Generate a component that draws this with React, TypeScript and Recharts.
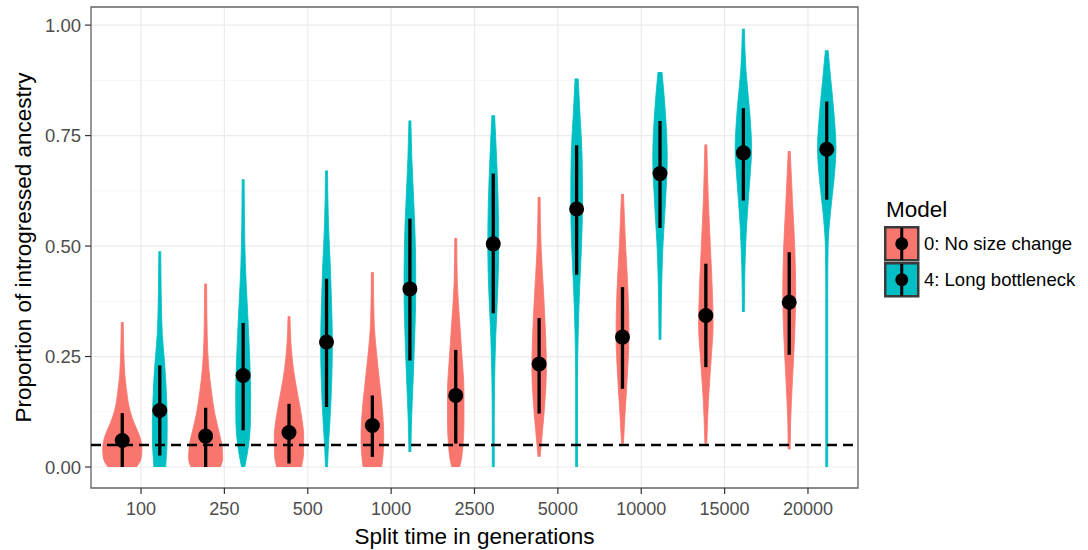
import React from 'react';
import {
  ComposedChart,
  Area,
  Line,
  Scatter,
  XAxis,
  YAxis,
  CartesianGrid,
  ReferenceLine,
  ReferenceArea,
  Label,
} from 'recharts';

const splitTimes = ['100', '250', '500', '1000', '2500', '5000', '10000', '15000', '20000'];

// model 0: no size change
const noChangeMean = [0.06, 0.07, 0.078, 0.094, 0.162, 0.233, 0.294, 0.343, 0.373];
const noChangeLow = [0.0, 0.0, 0.008, 0.023, 0.053, 0.121, 0.177, 0.226, 0.254];
const noChangeHigh = [0.122, 0.134, 0.143, 0.162, 0.265, 0.337, 0.407, 0.46, 0.486];

// model 4: long bottleneck
const bottleneckMean = [0.128, 0.207, 0.283, 0.403, 0.505, 0.584, 0.664, 0.711, 0.719];
const bottleneckLow = [0.026, 0.083, 0.136, 0.241, 0.348, 0.435, 0.541, 0.603, 0.605];
const bottleneckHigh = [0.23, 0.326, 0.426, 0.562, 0.664, 0.728, 0.783, 0.812, 0.827];

// violin outlines: [proportion, relative density]
const noChangeShapes: number[][][] = [
  [[0, 0.72], [0.01, 0.88], [0.025, 0.98], [0.04, 1.0], [0.06, 0.95], [0.08, 0.8], [0.1, 0.6], [0.13, 0.38], [0.17, 0.23], [0.21, 0.13], [0.26, 0.08], [0.328, 0.05]],
  [[0, 0.75], [0.02, 0.87], [0.05, 0.83], [0.08, 0.68], [0.12, 0.47], [0.17, 0.3], [0.22, 0.17], [0.3, 0.08], [0.415, 0.05]],
  [[0, 0.63], [0.03, 0.74], [0.07, 0.75], [0.12, 0.62], [0.17, 0.42], [0.22, 0.23], [0.28, 0.1], [0.341, 0.05]],
  [[0, 0.47], [0.03, 0.55], [0.07, 0.58], [0.12, 0.53], [0.18, 0.4], [0.25, 0.23], [0.33, 0.09], [0.441, 0.05]],
  [[0, 0.2], [0.02, 0.3], [0.05, 0.37], [0.1, 0.42], [0.17, 0.42], [0.25, 0.32], [0.33, 0.2], [0.42, 0.08], [0.518, 0.05]],
  [[0.023, 0.05], [0.08, 0.17], [0.15, 0.3], [0.22, 0.37], [0.3, 0.33], [0.4, 0.22], [0.5, 0.1], [0.611, 0.05]],
  [[0.053, 0.05], [0.12, 0.13], [0.2, 0.24], [0.3, 0.33], [0.4, 0.28], [0.5, 0.16], [0.618, 0.05]],
  [[0.053, 0.05], [0.15, 0.13], [0.25, 0.28], [0.32, 0.37], [0.4, 0.33], [0.5, 0.23], [0.6, 0.13], [0.73, 0.05]],
  [[0.04, 0.05], [0.1, 0.07], [0.2, 0.17], [0.3, 0.28], [0.4, 0.33], [0.5, 0.28], [0.6, 0.17], [0.715, 0.05]],
];

const bottleneckShapes: number[][][] = [
  [[0, 0.3], [0.02, 0.33], [0.05, 0.37], [0.1, 0.38], [0.15, 0.35], [0.2, 0.3], [0.25, 0.22], [0.3, 0.13], [0.4, 0.07], [0.488, 0.05]],
  [[0, 0.08], [0.02, 0.17], [0.05, 0.28], [0.1, 0.37], [0.17, 0.38], [0.25, 0.33], [0.35, 0.23], [0.45, 0.12], [0.55, 0.07], [0.651, 0.05]],
  [[0, 0.05], [0.05, 0.1], [0.1, 0.17], [0.2, 0.27], [0.28, 0.3], [0.35, 0.27], [0.45, 0.2], [0.55, 0.1], [0.671, 0.05]],
  [[0.034, 0.05], [0.1, 0.08], [0.2, 0.17], [0.3, 0.25], [0.4, 0.3], [0.5, 0.28], [0.6, 0.2], [0.7, 0.1], [0.784, 0.05]],
  [[0, 0.05], [0.1, 0.05], [0.2, 0.07], [0.3, 0.13], [0.4, 0.23], [0.5, 0.28], [0.6, 0.25], [0.7, 0.17], [0.796, 0.07]],
  [[0, 0.05], [0.2, 0.05], [0.3, 0.08], [0.4, 0.15], [0.5, 0.25], [0.6, 0.3], [0.7, 0.28], [0.8, 0.17], [0.879, 0.08]],
  [[0.288, 0.05], [0.4, 0.08], [0.5, 0.15], [0.6, 0.28], [0.7, 0.37], [0.8, 0.28], [0.894, 0.1]],
  [[0.351, 0.05], [0.45, 0.08], [0.55, 0.17], [0.65, 0.33], [0.72, 0.42], [0.8, 0.33], [0.9, 0.13], [0.992, 0.05]],
  [[0, 0.05], [0.4, 0.05], [0.5, 0.07], [0.58, 0.2], [0.65, 0.37], [0.72, 0.47], [0.8, 0.37], [0.88, 0.2], [0.943, 0.07]],
];

const RED = '#F8766D';
const TEAL = '#00BFC4';
const FONT = '"Liberation Sans", Arial, sans-serif';
const DODGE = 0.225;
const MAX_HALF = 0.235;
const Y_DOMAIN: [number, number] = [-0.0475, 1.041];
const X_DOMAIN: [number, number] = [0.4, 9.6];

const models = [
  { name: '0: No size change', color: RED, offset: -DODGE, shapes: noChangeShapes, mean: noChangeMean, low: noChangeLow, high: noChangeHigh },
  { name: '4: Long bottleneck', color: TEAL, offset: DODGE, shapes: bottleneckShapes, mean: bottleneckMean, low: bottleneckLow, high: bottleneckHigh },
];

function violinData(shape: number[][], center: number) {
  return shape.map(([p, rel]) => ({ p, v: [center - rel * MAX_HALF, center + rel * MAX_HALF] }));
}

const Dot = (props: any) => <circle cx={props.cx} cy={props.cy} r={7.5} fill="#000" />;

function YTitle(props: any) {
  const vb = props.viewBox || { x: 0, y: 7, width: 91, height: 481 };
  const cy = vb.y + vb.height / 2;
  return (
    <text
      transform={`translate(23, ${cy}) rotate(-90)`}
      textAnchor="middle"
      dominantBaseline="central"
      fontSize={22.5}
      fill="#000"
      fontFamily={FONT}
    >
      Proportion of introgressed ancestry
    </text>
  );
}

function LegendKey({ color }: { color: string }) {
  return (
    <svg width={36} height={36} style={{ display: 'block' }}>
      <rect x={1.25} y={1.25} width={33} height={33} fill={color} stroke="#3a3a3a" strokeWidth={2.5} />
      <line x1={17.75} x2={17.75} y1={2} y2={34} stroke="#000" strokeWidth={3} />
      <circle cx={17.75} cy={17.75} r={6.5} fill="#000" />
    </svg>
  );
}

export default function App() {
  return (
    <div style={{ position: 'absolute', left: 0, top: 0, width: 1088, height: 550, background: '#fff', fontFamily: FONT }}>
      <ComposedChart
        width={1088}
        height={550}
        layout="vertical"
        margin={{ top: 7, right: 230, bottom: 0, left: 0 }}
        style={{ fontFamily: FONT }}
      >
        <CartesianGrid
          horizontalValues={[0.125, 0.375, 0.625, 0.875]}
          vertical={false}
          stroke="#f2f2f2"
          strokeWidth={0.8}
        />
        <CartesianGrid stroke="#ebebeb" strokeWidth={1.2} />
        <XAxis
          type="number"
          dataKey="x"
          domain={X_DOMAIN}
          ticks={[1, 2, 3, 4, 5, 6, 7, 8, 9]}
          tickFormatter={(v: number) => splitTimes[v - 1]}
          interval={0}
          allowDataOverflow
          axisLine={false}
          tickLine={{ stroke: '#333', strokeWidth: 1.2 }}
          tickSize={6}
          tickMargin={8}
          tick={{ fill: '#4d4d4d', fontSize: 18 }}
          height={62}
        >
          <Label value="Split time in generations" position="insideBottom" offset={6} fontSize={22.5} fill="#000" />
        </XAxis>
        <YAxis
          type="number"
          dataKey="p"
          domain={Y_DOMAIN}
          reversed
          ticks={[0, 0.25, 0.5, 0.75, 1]}
          tickFormatter={(v: number) => v.toFixed(2)}
          allowDataOverflow
          axisLine={false}
          tickLine={{ stroke: '#333', strokeWidth: 1.2 }}
          tickSize={6}
          tickMargin={4}
          tick={{ fill: '#4d4d4d', fontSize: 18.5 }}
          width={91}
        >
          <Label content={YTitle} />
        </YAxis>

        {models.map((m, mi) =>
          m.shapes.map((shape, i) => (
            <Area
              key={`v-${mi}-${i}`}
              data={violinData(shape, i + 1 + m.offset)}
              dataKey="v"
              type="monotone"
              fill={m.color}
              fillOpacity={1}
              stroke={m.color}
              strokeWidth={0.8}
              dot={false}
              activeDot={false}
              isAnimationActive={false}
            />
          ))
        )}

        <ReferenceLine y={0.05} stroke="#000" strokeWidth={2.5} strokeDasharray="10 6" />

        {models.map((m, mi) =>
          m.mean.map((_, i) => (
            <Line
              key={`r-${mi}-${i}`}
              data={[
                { p: m.low[i], x: i + 1 + m.offset },
                { p: m.high[i], x: i + 1 + m.offset },
              ]}
              dataKey="x"
              stroke="#000"
              strokeWidth={3.3}
              dot={false}
              activeDot={false}
              isAnimationActive={false}
            />
          ))
        )}

        {models.map((m, mi) => (
          <Scatter
            key={`m-${mi}`}
            data={m.mean.map((v, i) => ({ x: i + 1 + m.offset, p: v }))}
            shape={Dot}
            isAnimationActive={false}
          />
        ))}

        <ReferenceArea
          x1={X_DOMAIN[0]}
          x2={X_DOMAIN[1]}
          y1={Y_DOMAIN[0]}
          y2={Y_DOMAIN[1]}
          fill="none"
          stroke="#666"
          strokeWidth={1.3}
        />
      </ComposedChart>

      <div style={{ position: 'absolute', left: 886, top: 196, fontSize: 22.5, lineHeight: '28px', color: '#000' }}>
        Model
      </div>
      {models.map((m, i) => (
        <div
          key={m.name}
          style={{ position: 'absolute', left: 884, top: 226 + i * 35.5, display: 'flex', alignItems: 'center' }}
        >
          <LegendKey color={m.color} />
          <span style={{ marginLeft: 4, fontSize: 18.5, color: '#000', whiteSpace: 'nowrap' }}>{m.name}</span>
        </div>
      ))}
    </div>
  );
}
